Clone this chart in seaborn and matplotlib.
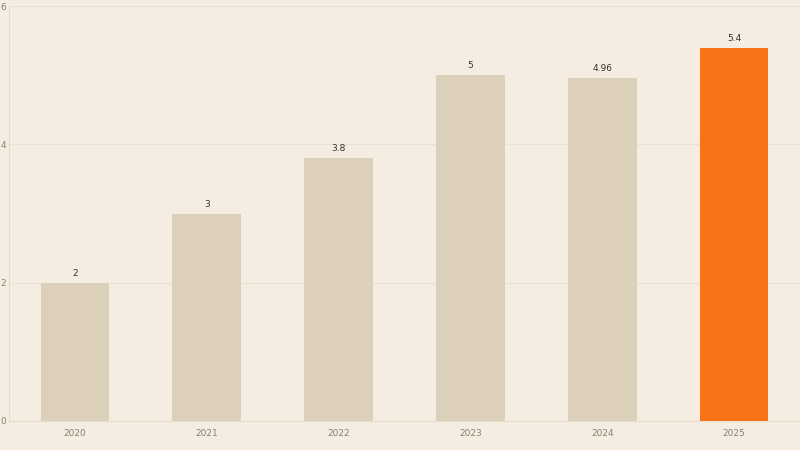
import matplotlib
matplotlib.use("Agg")
import matplotlib.pyplot as plt
import seaborn as sns
import pandas as pd

years = ["2020", "2021", "2022", "2023", "2024", "2025"]
values = [2, 3, 3.8, 5, 4.96, 5.4]
labels = ["2", "3", "3.8", "5", "4.96", "5.4"]

bg = "#f5ede1"
beige = "#ddd0bb"
orange = "#f97316"

sns.set_theme(style="white")
plt.rcParams['font.family'] = ['DejaVu Sans']

df = pd.DataFrame({"year": years, "value": values})
fig = plt.figure(figsize=(8, 4.5), dpi=100, facecolor=bg)
ax = fig.add_axes([9 / 800, 29 / 450, 791 / 800, 415 / 450])
ax.set_facecolor(bg)

palette = [beige] * 5 + [orange]
sns.barplot(data=df, x="year", y="value", hue="year", palette=palette,
            legend=False, width=0.52, ax=ax, saturation=1, linewidth=0)
for p, lab in zip(ax.patches, labels):
    ax.text(p.get_x() + p.get_width() / 2, p.get_height() + 0.07, lab,
            ha="center", va="bottom", fontsize=6.5, color="#333333")

ax.set_ylim(0, 6)
ax.set_yticks([0, 2, 4, 6])
ax.set_xlim(-0.5, 5.5)
ax.yaxis.grid(True, color="#ebe2d3", linewidth=0.8)
ax.set_axisbelow(True)
ax.set_xlabel("")
ax.set_ylabel("")
ax.tick_params(axis="x", labelsize=6.5, colors="#8a8070", length=0, pad=6)
ax.tick_params(axis="y", labelsize=6.5, colors="#8a8070", length=0, pad=2)
for s in ["top", "right"]:
    ax.spines[s].set_visible(False)
for s in ["left", "bottom"]:
    ax.spines[s].set_color("#e6dccb")
    ax.spines[s].set_linewidth(0.8)

fig.savefig("out.png", dpi=100, facecolor=bg)
